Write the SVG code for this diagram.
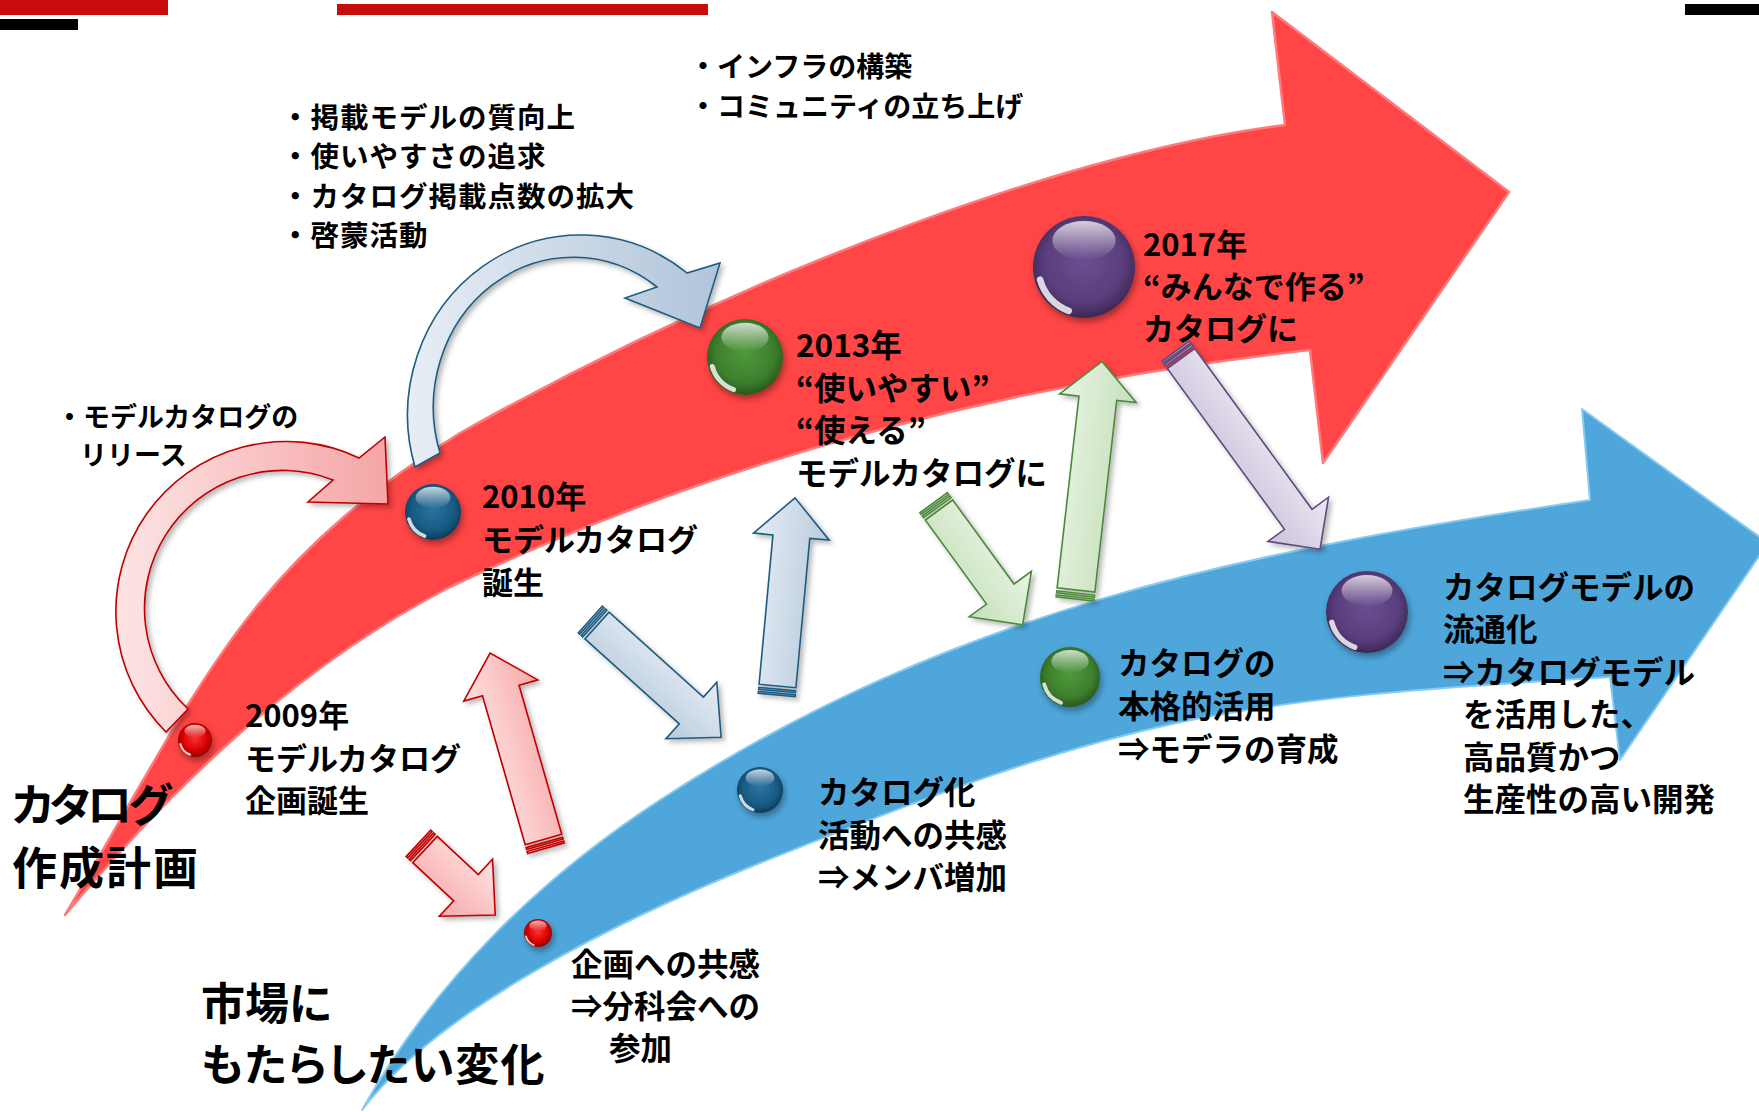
<svg xmlns="http://www.w3.org/2000/svg" xmlns:xlink="http://www.w3.org/1999/xlink" width="1759" height="1112" viewBox="0 0 1759 1112">
<defs>
<style>
.t{font-family:"Noto Sans CJK JP","Noto Sans",sans-serif;font-weight:700;fill:#000}
.s27{font-size:27px}.s28{font-size:28px}.s285{font-size:28.5px;letter-spacing:1px}.s31{font-size:31px}.s315{font-size:31.5px}
.big{font-size:45px;font-feature-settings:"palt"}
.big2{font-size:44px;font-feature-settings:"palt"}
.q{font-feature-settings:"palt"}
.pk{fill:url(#gPink);stroke:#c00000;stroke-width:1.6}
.bl{fill:url(#gBlueA);stroke:#1f5c82;stroke-width:1.6}
.gr{fill:url(#gGreenA);stroke:#4c8a3c;stroke-width:1.6}
.pu{fill:url(#gPurpA);stroke:#5f4a80;stroke-width:1.6}
</style>
<filter id="sh" x="-20%" y="-20%" width="150%" height="150%"><feDropShadow dx="3" dy="3" stdDeviation="2.5" flood-color="#000" flood-opacity="0.28"/></filter>
<filter id="shb" x="-30%" y="-30%" width="170%" height="170%"><feDropShadow dx="2" dy="4" stdDeviation="3" flood-color="#000" flood-opacity="0.35"/></filter>
<linearGradient id="gPink" x1="0" y1="0" x2="0" y2="1"><stop offset="0" stop-color="#ffe3e3"/><stop offset="1" stop-color="#f7a8a8"/></linearGradient>
<linearGradient id="gBlueA" x1="0" y1="0" x2="0" y2="1"><stop offset="0" stop-color="#e6edf5"/><stop offset="1" stop-color="#b9cbdd"/></linearGradient>
<linearGradient id="gGreenA" x1="0" y1="0" x2="0" y2="1"><stop offset="0" stop-color="#eaf4e5"/><stop offset="1" stop-color="#c5e0b9"/></linearGradient>
<linearGradient id="gPurpA" x1="0" y1="0" x2="0" y2="1"><stop offset="0" stop-color="#ece8f2"/><stop offset="1" stop-color="#cbc2dc"/></linearGradient>
<linearGradient id="gArcPink" gradientUnits="userSpaceOnUse" x1="110" y1="0" x2="392" y2="0"><stop offset="0" stop-color="#fde6e6"/><stop offset="1" stop-color="#f5a4a4"/></linearGradient>
<linearGradient id="gArcBlue" gradientUnits="userSpaceOnUse" x1="395" y1="0" x2="722" y2="0"><stop offset="0" stop-color="#eaeff6"/><stop offset="1" stop-color="#b0c4da"/></linearGradient>
<radialGradient id="bRed" cx="0.5" cy="0.45" r="0.55"><stop offset="0" stop-color="#ff3030"/><stop offset="0.7" stop-color="#d20000"/><stop offset="1" stop-color="#8c0000"/></radialGradient>
<radialGradient id="bNavy" cx="0.5" cy="0.45" r="0.55"><stop offset="0" stop-color="#2a74a0"/><stop offset="0.7" stop-color="#175a82"/><stop offset="1" stop-color="#0c3b5a"/></radialGradient>
<radialGradient id="bGreen" cx="0.5" cy="0.45" r="0.55"><stop offset="0" stop-color="#4f9a3a"/><stop offset="0.7" stop-color="#3d7f2d"/><stop offset="1" stop-color="#28581c"/></radialGradient>
<radialGradient id="bPurp" cx="0.5" cy="0.45" r="0.55"><stop offset="0" stop-color="#6b4d92"/><stop offset="0.7" stop-color="#5a3e7c"/><stop offset="1" stop-color="#3b2856"/></radialGradient>
<linearGradient id="hl" x1="0" y1="0" x2="0" y2="1"><stop offset="0" stop-color="#fff" stop-opacity="0.75"/><stop offset="1" stop-color="#fff" stop-opacity="0"/></linearGradient>
<g id="gloss">
<ellipse cx="0" cy="-0.52" rx="0.62" ry="0.38" fill="url(#hl)"/>
<path d="M-0.86,0.25 A0.9,0.9 0 0 0 -0.3,0.86" fill="none" stroke="#fff" stroke-opacity="0.8" stroke-width="0.13" stroke-linecap="round"/>
</g>
<g id="ballRed"><circle r="1" fill="url(#bRed)"/><use href="#gloss"/></g>
<g id="ballNavy"><circle r="1" fill="url(#bNavy)"/><use href="#gloss"/></g>
<g id="ballGreen"><circle r="1" fill="url(#bGreen)"/><use href="#gloss"/></g>
<g id="ballPurp"><circle r="1" fill="url(#bPurp)"/><use href="#gloss"/></g>
</defs>

<g id="bars">
<rect x="0" y="0" width="168" height="15" fill="#c80c0c"/>
<rect x="0" y="19" width="78" height="11" fill="#000"/>
<rect x="337" y="4" width="371" height="11" fill="#c80c0c"/>
<rect x="1685" y="4" width="74" height="11" fill="#000"/>
</g>

<g id="red-arrow">
<path d="M65,915 C207,674 247,566 460,433 C765,262 1086,149 1285,125 L1272,12 L1509,192 L1323,463 L1310,350 C1012,383 720,458 450,587 C299,665 174,785 65,915 Z" fill="#ff4545" stroke="#ff7b7b" stroke-width="2.5" stroke-linejoin="round"/>
</g>
<g id="blue-arrow">
<path d="M362,1110 C435,979 543,876 660,800 C953,609 1244,552 1590,500 L1582,409 L1768,543 L1620,760 L1610,677 C1211,701 1131,715 760,863 C621,919 441,1007 362,1110 Z" fill="#4ea6da" stroke="#86cbf0" stroke-width="2" stroke-linejoin="round"/>
</g>

<g id="connectors">
<g filter="url(#sh)">
<path id="arc-pink" d="M166,732 A170,170 0 0 1 359,458 L385,437 L388,504 L308,502 L333,480 A138,138 0 0 0 188,709 Z" fill="url(#gArcPink)" stroke="#c00000" stroke-width="1.6"/>
</g>
<g filter="url(#sh)">
<path id="arc-blue" d="M415,467 A173,180 0 0 1 687,273 L720,263 L700,328 L625,298 L657,287 A140,150 0 0 0 440,453 Z" fill="url(#gArcBlue)" stroke="#1f5c82" stroke-width="1.6"/>
</g>
<g filter="url(#sh)"><g transform="translate(425,849.5) rotate(43)" class="pk">
<rect x="-9" y="-18" width="2" height="36"/><rect x="-5" y="-18" width="2" height="36"/>
<path d="M0,-18 H56 V-39 L96,0 L56,39 V18 H0 Z"/></g></g>
<g filter="url(#sh)"><g transform="translate(543.5,839.5) rotate(-106)" class="pk">
<rect x="-9" y="-19" width="2" height="38"/><rect x="-5" y="-19" width="2" height="38"/>
<path d="M0,-19 H155 V-38.5 L194,0 L155,38.5 V19 H0 Z"/></g></g>
<g filter="url(#sh)"><g transform="translate(597,625.5) rotate(42)" class="bl">
<rect x="-9" y="-18" width="2" height="36"/><rect x="-5" y="-18" width="2" height="36"/>
<path d="M0,-18 H127 V-38 L167,0 L127,38 V18 H0 Z"/></g></g>
<g filter="url(#sh)"><g transform="translate(777.5,686) rotate(-84.7)" class="bl">
<rect x="-9" y="-18.5" width="2" height="37"/><rect x="-5" y="-18.5" width="2" height="37"/>
<path d="M0,-18.5 H150 V-38 L189,0 L150,38 V18.5 H0 Z"/></g></g>
<g filter="url(#sh)"><g transform="translate(939,510) rotate(53.9)" class="gr">
<rect x="-9" y="-17" width="2" height="34"/><rect x="-5" y="-17" width="2" height="34"/>
<path d="M0,-17 H104 V-38.5 L142,0 L104,38.5 V17 H0 Z"/></g></g>
<g filter="url(#sh)"><g transform="translate(1076,590) rotate(-83.5)" class="gr">
<rect x="-9" y="-19" width="2" height="38"/><rect x="-5" y="-19" width="2" height="38"/>
<path d="M0,-19 H193 V-38.5 L230,0 L193,38.5 V19 H0 Z"/></g></g>
<g filter="url(#sh)"><g transform="translate(1181,358.5) rotate(53.9)" class="pu">
<rect x="-9" y="-17" width="2" height="34"/><rect x="-5" y="-17" width="2" height="34"/>
<path d="M0,-17 H199 V-37.5 L236,0 L199,37.5 V17 H0 Z"/></g></g>
</g>

<g id="node-plan">
<text class="t big" x="12" y="822" letter-spacing="-4">カタログ</text>
<text class="t big" x="12" y="885" letter-spacing="2">作成計画</text>
</g>
<g id="node-market">
<text class="t big2" x="201" y="1020">市場に</text>
<text class="t big2" x="201" y="1081" letter-spacing="1.2">もたらしたい変化</text>
</g>

<g id="node-2009">
<g filter="url(#shb)"><use href="#ballRed" transform="translate(195,740) scale(17)"/></g>
<text class="t s31" x="245" y="726.5">2009年</text>
<text class="t s31" x="245" y="770">モデルカタログ</text>
<text class="t s31" x="245" y="812">企画誕生</text>
</g>
<g id="node-2010">
<g filter="url(#shb)"><use href="#ballNavy" transform="translate(433,512) scale(28)"/></g>
<text class="t s31" x="482" y="507.5">2010年</text>
<text class="t s31" x="482" y="551">モデルカタログ</text>
<text class="t s31" x="482" y="594">誕生</text>
</g>
<g id="node-2013">
<g filter="url(#shb)"><use href="#ballGreen" transform="translate(745,357) scale(38)"/></g>
<text class="t s315" x="796" y="357">2013年</text>
<text class="t s315" x="796" y="399.5"><tspan class="q">“</tspan>使いやすい<tspan class="q">”</tspan></text>
<text class="t s315" x="796" y="442"><tspan class="q">“</tspan>使える<tspan class="q">”</tspan></text>
<text class="t s315" x="796" y="484.5">モデルカタログに</text>
</g>
<g id="node-2017">
<g filter="url(#shb)"><use href="#ballPurp" transform="translate(1084,267) scale(51)"/></g>
<text class="t s31" x="1143" y="255.5">2017年</text>
<text class="t s31" x="1143" y="297.5"><tspan class="q">“</tspan>みんなで作る<tspan class="q">”</tspan></text>
<text class="t s31" x="1143" y="339.5">カタログに</text>
</g>

<g id="node-m1">
<g filter="url(#shb)"><use href="#ballRed" transform="translate(538,933) scale(14)"/></g>
<text class="t s315" x="571" y="976">企画への共感</text>
<text class="t s315" x="571" y="1018">⇒分科会への</text>
<text class="t s315" x="609" y="1060">参加</text>
</g>
<g id="node-m2">
<g filter="url(#shb)"><use href="#ballNavy" transform="translate(760,790) scale(23)"/></g>
<text class="t s315" x="818" y="804">カタログ化</text>
<text class="t s315" x="818" y="846.5">活動への共感</text>
<text class="t s315" x="818" y="889">⇒メンバ増加</text>
</g>
<g id="node-m3">
<g filter="url(#shb)"><use href="#ballGreen" transform="translate(1070,677) scale(30)"/></g>
<text class="t s315" x="1118" y="674.5">カタログの</text>
<text class="t s315" x="1118" y="717.5">本格的活用</text>
<text class="t s315" x="1118" y="760.5">⇒モデラの育成</text>
</g>
<g id="node-m4">
<g filter="url(#shb)"><use href="#ballPurp" transform="translate(1367,612) scale(41)"/></g>
<text class="t s315" x="1443" y="598.5">カタログモデルの</text>
<text class="t s315" x="1443" y="641">流通化</text>
<text class="t s315" x="1443" y="683.5">⇒カタログモデル</text>
<text class="t s315" x="1463" y="726">を活用した、</text>
<text class="t s315" x="1463" y="768.5">高品質かつ</text>
<text class="t s315" x="1463" y="811">生産性の高い開発</text>
</g>

<g id="note-release">
<text class="t s27" x="56" y="427">・モデルカタログの</text>
<text class="t s27" x="80" y="465">リリース</text>
</g>
<g id="note-quality">
<text class="t s285" x="281" y="127.5">・掲載モデルの質向上</text>
<text class="t s285" x="281" y="167">・使いやすさの追求</text>
<text class="t s285" x="281" y="206.5">・カタログ掲載点数の拡大</text>
<text class="t s285" x="281" y="246">・啓蒙活動</text>
</g>
<g id="note-infra">
<text class="t s28" x="689" y="77">・インフラの構築</text>
<text class="t s28" x="689" y="116.5">・コミュニティの立ち上げ</text>
</g>
</svg>
